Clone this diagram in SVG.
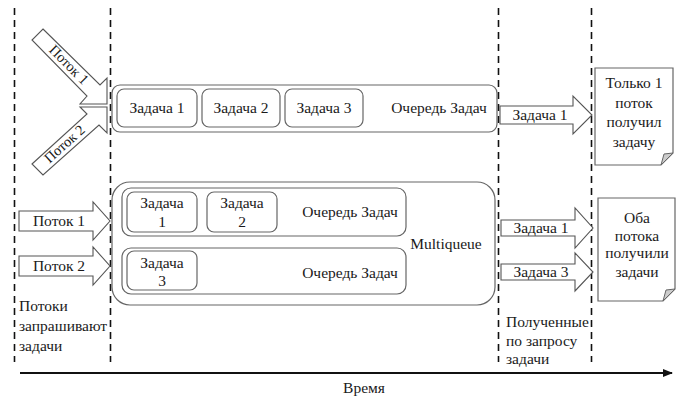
<svg xmlns="http://www.w3.org/2000/svg" width="683" height="396" viewBox="0 0 683 396">
<style>
text{fill:#1a1a1a}
.m{text-anchor:middle}
.dash{stroke:#111;stroke-width:1.6;stroke-dasharray:7 5;fill:none}
.box{fill:#fff;stroke:#666;stroke-width:1.2}
.arr{fill:#fff;stroke:#555;stroke-width:1.1;stroke-linejoin:miter}
.fold{fill:#ccc;stroke:#666;stroke-width:1}
</style>
<defs>
<marker id="ah" markerWidth="10" markerHeight="8" refX="9" refY="4" orient="auto" markerUnits="userSpaceOnUse">
<path d="M0,0 L10,4 L0,8 Z" fill="#111"/>
</marker>
</defs>
<rect width="683" height="396" fill="#fff"/>
<g font-family="Liberation Serif" font-size="15.5">

<g id="guides">
<line class="dash" x1="14.5" y1="8" x2="14.5" y2="362"/>
<line class="dash" x1="110.5" y1="8" x2="110.5" y2="362"/>
<line class="dash" x1="498.5" y1="8" x2="498.5" y2="362"/>
<line class="dash" x1="591.5" y1="8" x2="591.5" y2="362"/>
</g>

<g id="time-axis">
<line x1="20" y1="373" x2="672" y2="373" stroke="#111" stroke-width="2" marker-end="url(#ah)"/>
<text class="m" x="364" y="393">Время</text>
</g>

<g id="connectors">
<g id="arrow-top-potok1">
<polygon class="arr" points="43,29 100,85 107,78 107,104 80,104 87,96 32,40"/>
<text class="m" font-size="14.5" transform="translate(65.5,68.1) rotate(45)">Поток 1</text>
</g>
<g id="arrow-top-potok2">
<polygon class="arr" points="32,164 87,114 80,107 107,107 107,133 99,125 43,175"/>
<text class="m" font-size="14.5" transform="translate(67.7,147.5) rotate(-42)">Поток 2</text>
</g>
<g id="arrow-top-task1">
<polygon class="arr" points="500,106 573,106 573,96 592,115 573,134 573,124 500,124"/>
<text class="m" x="540" y="120">Задача 1</text>
</g>
<g id="arrow-bottom-potok1">
<polygon class="arr" points="19,211 93,211 93,202 110,221 93,240 93,231 19,231"/>
<text class="m" x="59" y="226">Поток 1</text>
</g>
<g id="arrow-bottom-potok2">
<polygon class="arr" points="19,256 93,256 93,247 110,266 93,285 93,276 19,276"/>
<text class="m" x="59" y="271">Поток 2</text>
</g>
<g id="arrow-bottom-task1">
<polygon class="arr" points="501,220 575,220 575,208 593,228 575,248 575,236 501,236"/>
<text class="m" x="541" y="233">Задача 1</text>
</g>
<g id="arrow-bottom-task3">
<polygon class="arr" points="501,264 575,264 575,253 593,272 575,291 575,280 501,280"/>
<text class="m" x="541" y="277">Задача 3</text>
</g>
</g>

<g id="queue-top">
<rect class="box" x="112" y="85" width="385" height="47" rx="8"/>
<g id="qt-task1"><rect class="box" x="117" y="89" width="80" height="38" rx="7"/><text class="m" x="157" y="113">Задача 1</text></g>
<g id="qt-task2"><rect class="box" x="202" y="89" width="78" height="38" rx="7"/><text class="m" x="241" y="113">Задача 2</text></g>
<g id="qt-task3"><rect class="box" x="285" y="89" width="78" height="38" rx="7"/><text class="m" x="324" y="113">Задача 3</text></g>
<text class="m" x="439" y="113">Очередь Задач</text>
</g>

<g id="multiqueue">
<rect class="box" x="112" y="182" width="383" height="123" rx="18"/>
<text class="m" x="446" y="249">Multiqueue</text>
<g id="queue-1">
<rect class="box" x="122" y="188" width="284" height="48" rx="9"/>
<g id="q1-task1"><rect class="box" x="127" y="192" width="70" height="40" rx="7"/><text class="m" x="162" y="208">Задача</text><text class="m" x="162" y="227">1</text></g>
<g id="q1-task2"><rect class="box" x="207" y="192" width="70" height="40" rx="7"/><text class="m" x="242" y="208">Задача</text><text class="m" x="242" y="227">2</text></g>
<text class="m" x="350" y="217">Очередь Задач</text>
</g>
<g id="queue-2">
<rect class="box" x="122" y="248" width="284" height="46" rx="9"/>
<g id="q2-task3"><rect class="box" x="127" y="251" width="70" height="39" rx="7"/><text class="m" x="162" y="268">Задача</text><text class="m" x="162" y="286">3</text></g>
<text class="m" x="350" y="278">Очередь Задач</text>
</g>
</g>

<g id="note-top">
<path class="box" d="M595,68 H673 V153 L661,165 H595 Z"/>
<path class="fold" d="M661,165 L664,154 L673,153 Z"/>
<text class="m" x="634" y="88">Только 1</text>
<text class="m" x="634" y="108">поток</text>
<text class="m" x="634" y="127">получил</text>
<text class="m" x="634" y="147">задачу</text>
</g>

<g id="note-bottom">
<path class="box" d="M598,198 H675 V289 L663,301 H598 Z"/>
<path class="fold" d="M663,301 L666,290 L675,289 Z"/>
<text class="m" x="637" y="223">Оба</text>
<text class="m" x="637" y="241">потока</text>
<text class="m" x="637" y="258">получили</text>
<text class="m" x="637" y="277">задачи</text>
</g>

<g id="label-left">
<text x="19" y="311">Потоки</text>
<text x="19" y="331">запрашивают</text>
<text x="19" y="351">задачи</text>
</g>

<g id="label-right">
<text x="506" y="327">Полученные</text>
<text x="506" y="346">по запросу</text>
<text x="506" y="364">задачи</text>
</g>
</g>
</svg>
